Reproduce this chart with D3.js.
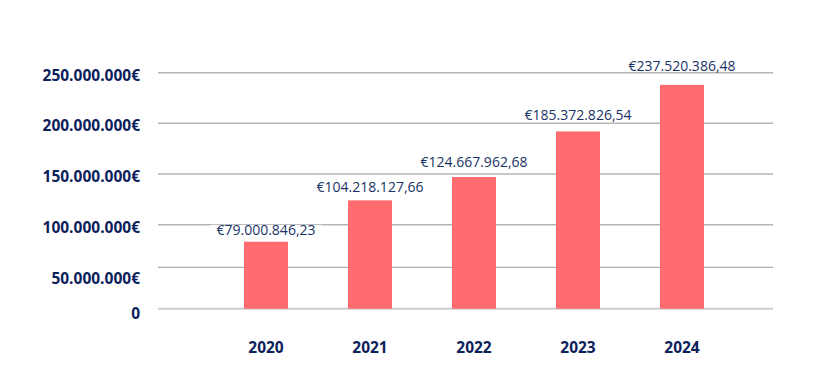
<!DOCTYPE html>
<html>
<head>
<meta charset="utf-8">
<style>
  body { margin: 0; background: #fff; }
  text { font-family: "Open Sans", "Noto Sans", sans-serif; }
</style>
</head>
<body>
<svg width="819" height="377"></svg>
<script src="https://d3js.org/d3.v7.min.js"></script>
<script>
  // data
  var years = ["2020", "2021", "2022", "2023", "2024"];
  // bar heights as they sit against the axis (millions of €)
  var barValues = [80, 124, 147, 192, 238];
  // printed amounts above the bars
  var valueLabels = ["€79.000.846,23", "€104.218.127,66", "€124.667.962,68", "€185.372.826,54", "€237.520.386,48"];
  var tickValues = [0, 50, 100, 150, 200, 250];
  var tickLabels = ["0", "50.000.000€", "100.000.000€", "150.000.000€", "200.000.000€", "250.000.000€"];

  var svg = d3.select("svg");
  var navy = "#0b215a";

  // the axis in the image is not evenly spaced, so map each tick to where it is drawn
  var y = d3.scaleLinear()
      .domain(tickValues)
      .range([308.7, 267.3, 224.7, 174, 123.3, 72.7]);

  var x = d3.scaleBand()
      .domain(years)
      .range([214, 734])
      .paddingInner(0.577)
      .paddingOuter(0.2885);

  var gridLeft = 158, gridRight = 773;

  // gridlines
  svg.append("g")
    .selectAll("line")
    .data(tickValues)
    .join("line")
      .attr("x1", gridLeft)
      .attr("x2", gridRight)
      .attr("y1", function(d) { return y(d); })
      .attr("y2", function(d) { return y(d); })
      .attr("stroke", function(d) { return d === 0 ? "#cccccc" : d === 50 ? "#9a9a9a" : "#b5b5b5"; })
      .attr("stroke-width", function(d) { return d === 0 ? 2 : d === 50 ? 1 : 1.5; });

  // y tick labels
  svg.append("g")
    .selectAll("text")
    .data(tickValues)
    .join("text")
      .attr("x", 140)
      .attr("y", function(d) { return y(d) + (d === 50 ? 17 : d === 0 ? 10 : 8); })
      .attr("text-anchor", "end")
      .attr("font-size", 15.5)
      .attr("font-weight", 700)
      .attr("fill", navy)
      .text(function(d, i) { return tickLabels[i]; });

  // bars
  svg.append("g")
    .selectAll("rect")
    .data(barValues)
    .join("rect")
      .attr("x", function(d, i) { return x(years[i]); })
      .attr("width", x.bandwidth())
      .attr("y", function(d) { return y(d); })
      .attr("height", function(d) { return y(0) - y(d); })
      .attr("fill", "#ff6b6f");

  // value labels with white backing (breaks the gridline behind them)
  // the gap above the bar grows a little with bar height, as in the original
  var lab = svg.append("g")
    .selectAll("g")
    .data(barValues)
    .join("g")
      .attr("transform", function(d, i) {
        var gap = 3 + 0.05 * (y(0) - y(d));
        return "translate(" + (x(years[i]) + x.bandwidth() / 2) + "," + (y(d) - gap) + ")";
      });

  lab.append("text")
      .attr("text-anchor", "middle")
      .attr("font-size", 14)
      .attr("fill", "#1b3366")
      .text(function(d, i) { return valueLabels[i]; });

  lab.each(function() {
    var g = d3.select(this);
    var b = g.select("text").node().getBBox();
    g.insert("rect", "text")
      .attr("x", b.x - 6)
      .attr("width", b.width + 12)
      .attr("y", -10.5)
      .attr("height", 11.5)
      .attr("fill", "#fff");
  });

  // x labels
  svg.append("g")
    .selectAll("text")
    .data(years)
    .join("text")
      .attr("x", function(d) { return x(d) + x.bandwidth() / 2; })
      .attr("y", 352.5)
      .attr("text-anchor", "middle")
      .attr("font-size", 15.5)
      .attr("font-weight", 700)
      .attr("fill", navy)
      .text(function(d) { return d; });
</script>
</body>
</html>
